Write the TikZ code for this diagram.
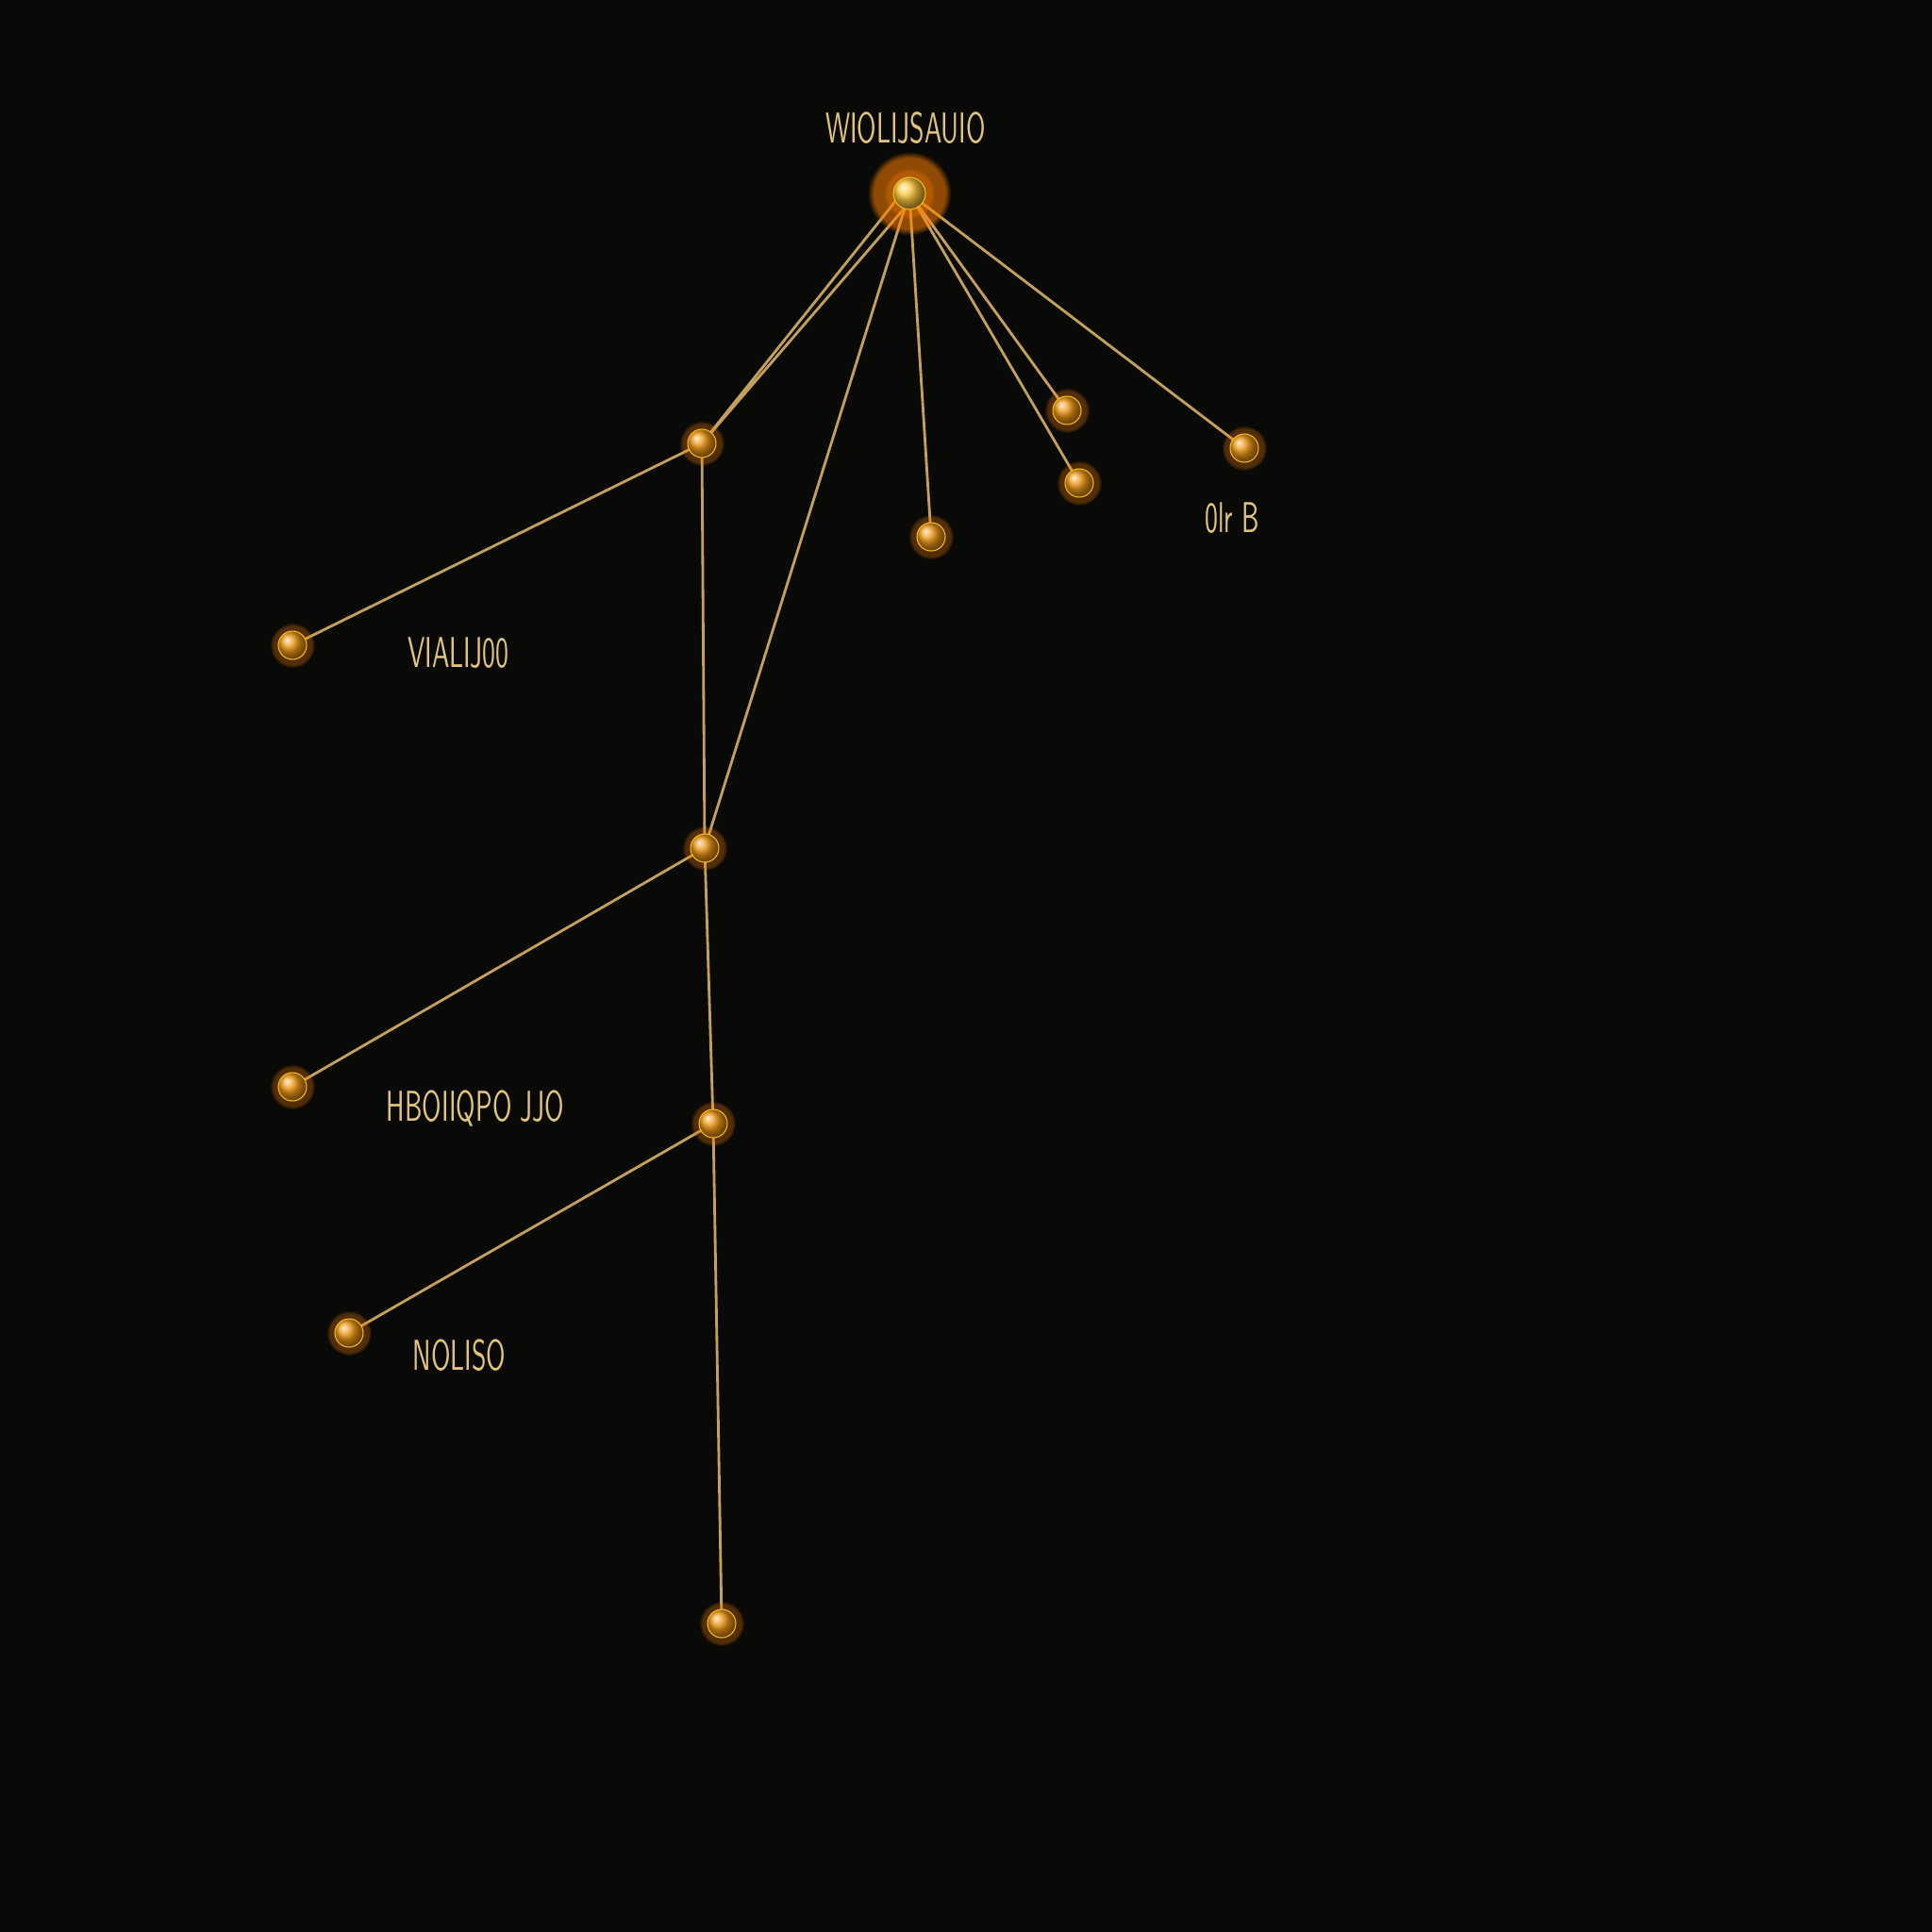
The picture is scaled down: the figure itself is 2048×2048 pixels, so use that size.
\documentclass[tikz,border=0pt]{standalone}
\usetikzlibrary{backgrounds,shadows}
\definecolor{bgdark}{RGB}{9,10,7}
\definecolor{wirecol}{RGB}{196,160,90}
\definecolor{orbcol}{RGB}{238,150,18}
\definecolor{hubcol}{RGB}{255,200,60}
\definecolor{inkcol}{RGB}{226,196,122}
\newcommand{\squeeze}[1]{\scalebox{0.62}[1]{#1}}

\begin{document}
\begin{tikzpicture}[x=0.01cm, y=-0.01cm,
  orb/.style={circle, inner sep=0pt, minimum size=0.3cm, draw=orbcol!60!yellow, line width=0.3pt, ball color=orbcol, circular glow={fill=orange, opacity=0.3, shadow scale=1.6}},
  hub/.style={orb, minimum size=0.34cm, ball color=hubcol, circular glow={fill=orange, opacity=0.55, shadow scale=2.6}},
  lbl/.style={text=inkcol, font=\sffamily\fontsize{13}{15}\selectfont, inner sep=0pt},
  link/.style={draw=wirecol, line width=0.8pt}]

\useasboundingbox (0,0) rectangle (2048,2048);

% orbs
\node[hub] (T) at (964,205) {};
\node[orb] (A) at (744,470) {};
\node[orb] (B1) at (1131,435) {};
\node[orb] (B2) at (1144,512) {};
\node[orb] (B3) at (987,569) {};
\node[orb] (B4) at (1319,475) {};
\node[orb] (L1) at (310,684) {};
\node[orb] (M) at (747,899) {};
\node[orb] (L2) at (310,1152) {};
\node[orb] (N) at (756,1191) {};
\node[orb] (L3) at (370,1413) {};
\node[orb] (E) at (765,1721) {};

% labels
\node[lbl] (tT) at (960,136) {\squeeze{WIOLIJSAUIO}};
\node[lbl] (tB4) at (1306,549) {\squeeze{0lr B}};
\node[lbl] (tL1) at (486,692) {\squeeze{VIALIJ00}};
\node[lbl] (tL2) at (504,1175) {\squeeze{HBOIIQPO JJO}};
\node[lbl] (tL3) at (487,1437) {\squeeze{NOLISO}};

\begin{scope}[on background layer]
\fill[bgdark] (0,0) rectangle (2048,2048);
\draw[link] (T.210) -- (A.center) (T.250) -- (A.center);
\draw[link] (T.center) -- (M.center) (T.center) -- (B3.center);
\draw[link] (T.center) -- (B1.center) (T.center) -- (B2.center) (T.center) -- (B4.center);
\draw[link] (A.center) -- (L1.center) (A.center) -- (M.center);
\draw[link] (M.center) -- (L2.center) (M.center) -- (N.center);
\draw[link] (N.center) -- (L3.center) (N.center) -- (E.center);
\end{scope}
\end{tikzpicture}
\end{document}
